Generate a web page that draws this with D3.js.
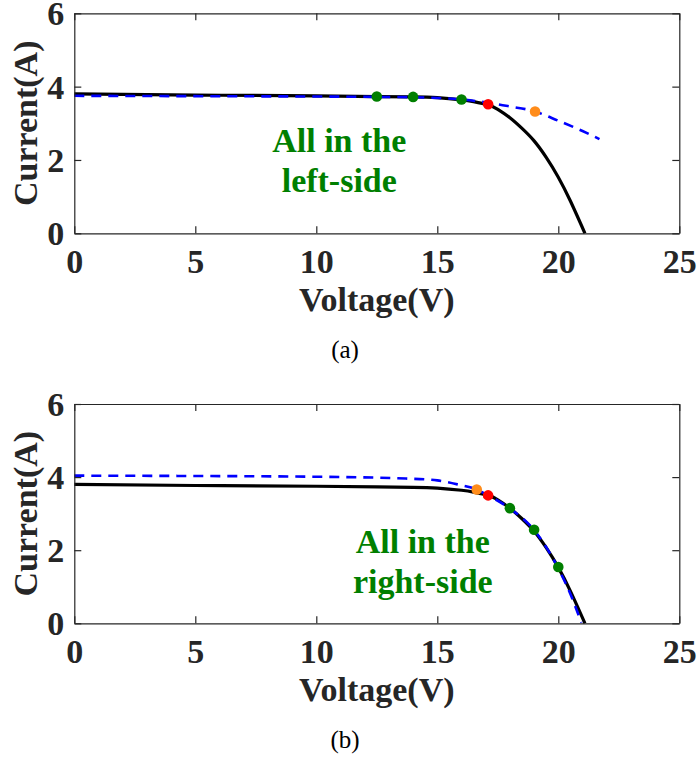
<!DOCTYPE html>
<html><head><meta charset="utf-8">
<script src="https://cdn.jsdelivr.net/npm/d3@7/dist/d3.min.js"></script>
<style>
html,body{margin:0;padding:0;background:#fff;}
svg{display:block;}
text{font-family:"Liberation Serif","Times New Roman",serif;}
</style></head>
<body>
<svg id="chart" width="698" height="761"></svg>
<script>
// ---- data ----
const xTicks = [0, 5, 10, 15, 20, 25];
const yTicks = [0, 2, 4, 6];

// black reference I-V curve (same in both panels)
const blackV = [0, 5, 10, 12.5, 14, 15, 16, 16.5, 17.1, 17.5, 18, 18.5, 19, 19.5, 20, 20.5, 21.1];
const blackI = [3.8, 3.77, 3.75, 3.73, 3.72, 3.7, 3.64, 3.59, 3.5, 3.38, 3.15, 2.86, 2.52, 2.07, 1.53, 0.88, 0];

// panel (a) blue dashed curve
const blueAV = [0, 5, 10, 12.5, 14, 15, 16, 17, 17.5, 18, 19, 20, 21, 21.7];
const blueAI = [3.75, 3.74, 3.73, 3.72, 3.71, 3.69, 3.65, 3.57, 3.52, 3.46, 3.33, 3.07, 2.79, 2.57];

// panel (b) blue dashed curve
const blueBV = [0, 5, 10, 13.7, 15, 15.9, 16.63, 17.1, 18, 19, 20, 20.5, 20.95];
const blueBI = [4.04, 4.03, 4.01, 3.96, 3.91, 3.79, 3.66, 3.5, 3.14, 2.55, 1.5, 0.8, 0.02];

// panel (a) markers
const greenAV = [12.5, 14, 16];
const greenAI = [3.73, 3.72, 3.65];
const redAV = [17.1], redAI = [3.52];
const orangeAV = [19.04], orangeAI = [3.32];

// panel (b) markers
const greenBV = [18, 19, 20];
const greenBI = [3.15, 2.56, 1.54];
const redBV = [17.1], redBI = [3.5];
const orangeBV = [16.63], orangeBI = [3.66];

const annotA = ["All in the", "left-side"];
const annotB = ["All in the", "right-side"];
const captions = ["(a)", "(b)"];

// ---- drawing ----
const svg = d3.select("#chart");
const axisColor = "#262626";
const fontStack = '"Liberation Serif","Times New Roman",serif';

function zip(vs, is) { return vs.map((v, k) => ({v: v, i: is[k]})); }

function panel(cfg) {
  const left = 74.3, right = 679.3;
  const x = d3.scaleLinear().domain([0, 25]).range([left, right]);
  const y = d3.scaleLinear().domain([0, 6]).range([cfg.bottom, cfg.top]);
  const g = svg.append("g");

  const line = d3.line().x(d => x(d.v)).y(d => y(d.i)).curve(d3.curveMonotoneX);
  const lineN = d3.line().x(d => x(d.v)).y(d => y(d.i)).curve(d3.curveNatural);

  g.append("path").datum(zip(blackV, blackI))
    .attr("d", lineN).attr("fill", "none").attr("stroke", "#000").attr("stroke-width", 3.2);
  g.append("path").datum(zip(cfg.blueV, cfg.blueI))
    .attr("d", line).attr("fill", "none").attr("stroke", "#0000ff").attr("stroke-width", 2.6)
    .attr("stroke-dasharray", "10,7");

  const dots = [[cfg.greenV, cfg.greenI, "#007f00"], [cfg.redV, cfg.redI, "#ff0000"], [cfg.orangeV, cfg.orangeI, "#ff8c1a"]];
  dots.forEach(([vs, is, col]) => {
    g.selectAll(null).data(zip(vs, is)).enter().append("circle")
      .attr("cx", d => x(d.v)).attr("cy", d => y(d.i)).attr("r", 5.3).attr("fill", col);
  });

  // axes (ticks inward on all four sides)
  const tl = 7;
  const fmt = d3.format("d");
  const bAx = g.append("g").attr("transform", `translate(0,${cfg.bottom})`)
    .call(d3.axisBottom(x).tickValues(xTicks).tickFormat(fmt).tickSize(-tl).tickSizeOuter(0));
  const tAx = g.append("g").attr("transform", `translate(0,${cfg.top})`)
    .call(d3.axisTop(x).tickValues(xTicks).tickSize(-tl).tickFormat("").tickSizeOuter(0));
  const lAx = g.append("g").attr("transform", `translate(${left},0)`)
    .call(d3.axisLeft(y).tickValues(yTicks).tickFormat(fmt).tickSize(-tl).tickPadding(10).tickSizeOuter(0));
  const rAx = g.append("g").attr("transform", `translate(${right},0)`)
    .call(d3.axisRight(y).tickValues(yTicks).tickSize(-tl).tickFormat("").tickSizeOuter(0));
  [bAx, tAx, lAx, rAx].forEach(a => {
    a.select(".domain").attr("stroke", axisColor).attr("stroke-width", 1.2);
    a.selectAll(".tick line").attr("stroke", axisColor).attr("stroke-width", 1.2);
    a.selectAll("text").attr("fill", axisColor).style("font-family", fontStack)
      .style("font-weight", "bold").style("font-size", "34px");
  });
  bAx.selectAll(".tick text").attr("dy", null).attr("y", 40);
  lAx.selectAll(".tick text").attr("dy", "0.34em");

  // axis labels
  g.append("text").attr("x", (left + right) / 2).attr("y", cfg.bottom + 78)
    .attr("text-anchor", "middle").attr("fill", axisColor)
    .style("font-weight", "bold").style("font-size", "34px").text("Voltage(V)");
  g.append("text").attr("transform", `translate(37,${(cfg.top + cfg.bottom) / 2}) rotate(-90)`)
    .attr("text-anchor", "middle").attr("fill", axisColor)
    .style("font-weight", "bold").style("font-size", "34px").text("Current(A)");

  // annotation
  cfg.annot.forEach((t, k) => {
    g.append("text").attr("x", x(cfg.annotX)).attr("y", cfg.top + cfg.annotY + k * 40)
      .attr("text-anchor", "middle").attr("fill", "#007f00")
      .style("font-weight", "bold").style("font-size", "34px").text(t);
  });

  // caption
  g.append("text").attr("x", 345).attr("y", cfg.bottom + 125)
    .attr("text-anchor", "middle").attr("fill", "#000")
    .style("font-size", "25px").text(cfg.caption);
}

panel({top: 13.3, bottom: 233.3, blueV: blueAV, blueI: blueAI,
  greenV: greenAV, greenI: greenAI, redV: redAV, redI: redAI, orangeV: orangeAV, orangeI: orangeAI,
  annot: annotA, annotX: 10.95, annotY: 139, caption: captions[0]});
panel({top: 404, bottom: 623.3, blueV: blueBV, blueI: blueBI,
  greenV: greenBV, greenI: greenBI, redV: redBV, redI: redBI, orangeV: orangeBV, orangeI: orangeBI,
  annot: annotB, annotX: 14.4, annotY: 149, caption: captions[1]});
</script>
</body></html>
